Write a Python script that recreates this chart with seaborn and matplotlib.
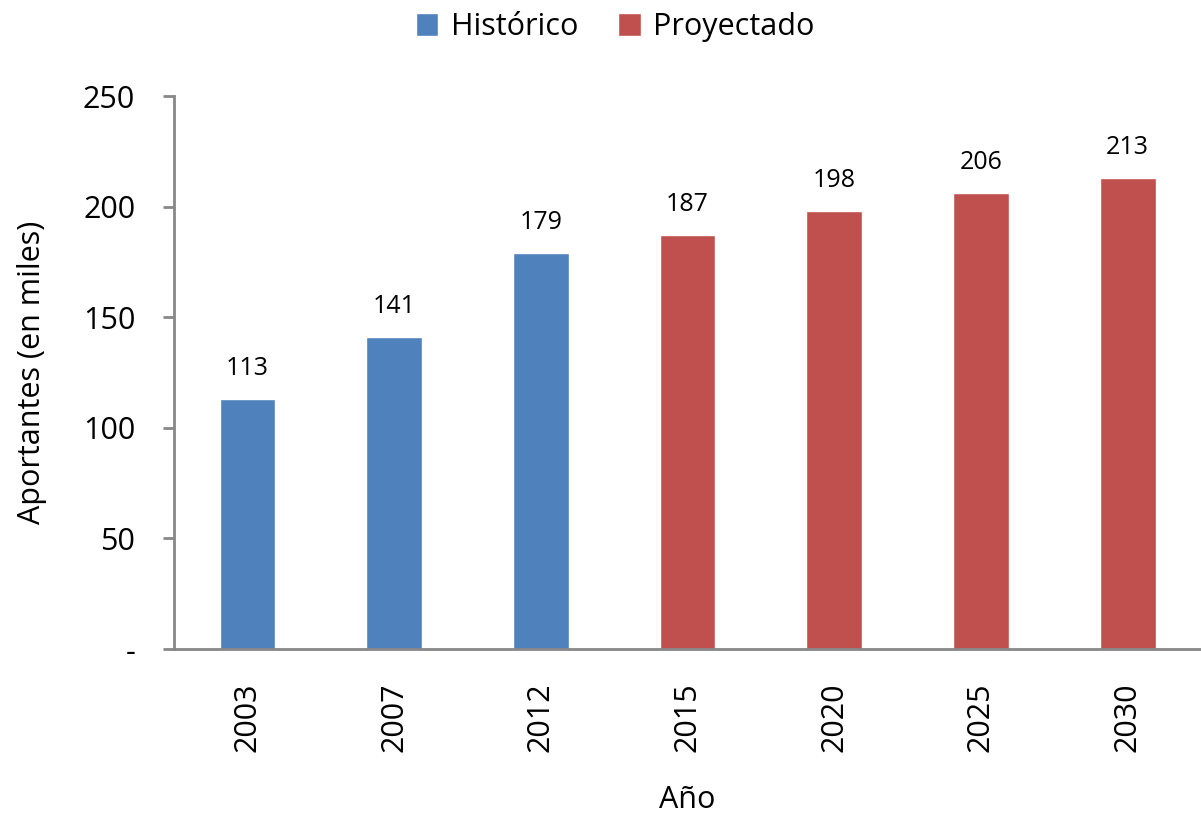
import pandas as pd
import matplotlib.pyplot as plt
import seaborn as sns

# Chart values
years = ['2003', '2007', '2012', '2015', '2020', '2025', '2030']
aportantes = [113, 141, 179, 187, 198, 206, 213]
tipo = ['Histórico', 'Histórico', 'Histórico', 'Proyectado', 'Proyectado', 'Proyectado', 'Proyectado']

df = pd.DataFrame({'year': years, 'value': aportantes, 'tipo': tipo})

sns.set_style('white')
plt.rcParams['font.family'] = ['Open Sans', 'DejaVu Sans']
plt.rcParams['text.color'] = 'black'
plt.rcParams['axes.labelcolor'] = 'black'
plt.rcParams['xtick.labelcolor'] = 'black'
plt.rcParams['ytick.labelcolor'] = 'black'

fig = plt.figure(figsize=(12.01, 8.18), dpi=100)
ax = fig.add_axes([0.1449, 0.2066, 0.8551, 0.676])

sns.barplot(data=df, x='year', y='value', hue='tipo', dodge=False,
            palette={'Histórico': '#4F81BD', 'Proyectado': '#C0504D'},
            width=0.38, saturation=1, ax=ax)

# Value labels above bars
for i, v in enumerate(aportantes):
    ax.annotate(str(v), (i, v), xytext=(0, 22), textcoords='offset points',
                ha='center', va='center', fontsize=18)

ax.set_ylim(0, 250)
ax.set_xlim(-0.5, 6.49)
ax.set_yticks([0, 50, 100, 150, 200, 250])
ax.set_yticklabels(['-', '50', '100', '150', '200', '250'], fontsize=22)
ax.set_xticks(range(len(years)))
ax.set_xticklabels(years, rotation=90, fontsize=22)
ax.set_xticks([i - 0.5 for i in range(len(years) + 1)], minor=True)

ax.tick_params(axis='x', which='major', length=0, pad=24)
ax.tick_params(axis='x', which='minor', length=9, width=2, color='#878787', direction='out')
ax.tick_params(axis='y', length=8, width=2, color='#878787', direction='out', pad=20, left=True)

for side in ['top', 'right']:
    ax.spines[side].set_visible(False)
for side in ['left', 'bottom']:
    ax.spines[side].set_color('#878787')
    ax.spines[side].set_linewidth(2)

ax.set_xlabel('Año', fontsize=22, labelpad=24)
ax.set_ylabel('Aportantes (en miles)', fontsize=22, labelpad=26)

handles, labels = ax.get_legend_handles_labels()
ax.legend(handles, labels, loc='center', bbox_to_anchor=(0.512, 0.967),
          bbox_transform=fig.transFigure, ncol=2, frameon=False, fontsize=22,
          handlelength=0.75, handleheight=0.75, handletextpad=0.4, columnspacing=1.3)

plt.savefig('out.png', dpi=100)
